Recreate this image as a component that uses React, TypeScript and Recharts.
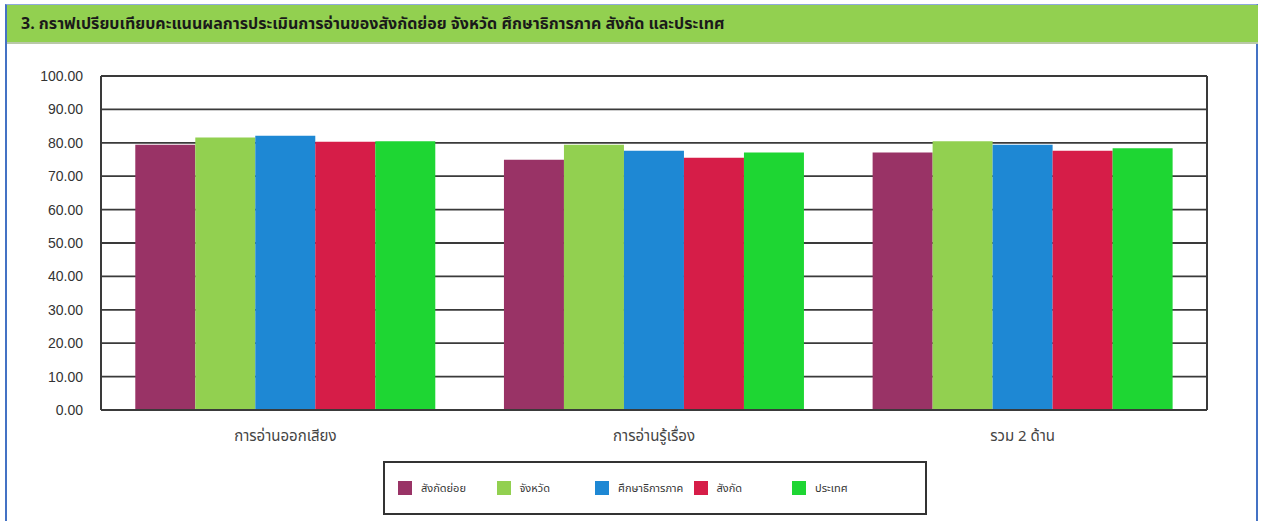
import { BarChart, Bar, XAxis, YAxis, CartesianGrid } from 'recharts'

const categories = ['การอ่านออกเสียง', 'การอ่านรู้เรื่อง', 'รวม 2 ด้าน']
const seriesNames = ['สังกัดย่อย', 'จังหวัด', 'ศึกษาธิการภาค', 'สังกัด', 'ประเทศ']
const seriesColors = ['#993366', '#92d050', '#1e88d4', '#d61d48', '#1ed633']
const subAgency = [79.4, 74.9, 77.1]
const province = [81.6, 79.4, 80.5]
const region = [82.1, 77.6, 79.4]
const agency = [80.3, 75.5, 77.6]
const country = [80.5, 77.1, 78.4]
const yTicks = [0, 10, 20, 30, 40, 50, 60, 70, 80, 90, 100]

const seriesValues = [subAgency, province, region, agency, country]
const data = categories.map((name, i) => {
    const row: Record<string, string | number> = { name }
    seriesValues.forEach((vals, s) => {
        row[`s${s}`] = vals[i]
    })
    return row
})

const FONT = 'Tahoma, "Noto Sans Thai", "Noto Sans", Arial, sans-serif'

export default function App() {
    return (
        <div
            style={{
                position: 'absolute',
                left: 0,
                top: 0,
                width: 1261,
                height: 521,
                background: '#fff',
                fontFamily: FONT,
                overflow: 'hidden'
            }}
        >
            {/* frame */}
            <div
                style={{
                    position: 'absolute',
                    left: 5,
                    top: 4,
                    width: 1253,
                    height: 530,
                    borderLeft: '2px solid #4472c4',
                    borderRight: '2px solid #4472c4',
                    borderTop: '1px solid #8fa9dc',
                    boxSizing: 'border-box'
                }}
            />
            <div
                style={{
                    position: 'absolute',
                    left: 7,
                    top: 5,
                    width: 1251,
                    height: 39,
                    background: '#92d050',
                    borderBottom: '2px solid #b9c8a8',
                    boxSizing: 'border-box',
                    display: 'flex',
                    alignItems: 'center',
                    paddingLeft: 14,
                    fontWeight: 'bold',
                    fontSize: 16,
                    color: '#1a1a1a'
                }}
            >
                3. กราฟเปรียบเทียบคะแนนผลการประเมินการอ่านของสังกัดย่อย จังหวัด ศึกษาธิการภาค สังกัด และประเทศ
            </div>

            <div style={{ position: 'absolute', left: 0, top: 0 }}>
                <BarChart
                    width={1261}
                    height={521}
                    data={data}
                    margin={{ top: 76, right: 50, left: 0, bottom: 81 }}
                    barCategoryGap="9.3%"
                    barGap={0}
                >
                    <CartesianGrid vertical={false} stroke="#3a3a3a" strokeWidth={1.8} />
                    <XAxis
                        dataKey="name"
                        height={30}
                        tickLine={false}
                        axisLine={{ stroke: '#3a3a3a', strokeWidth: 2 }}
                        tick={{ fill: '#444', fontSize: 15, fontFamily: FONT }}
                        tickMargin={14}
                        interval={0}
                    />
                    <YAxis
                        width={101}
                        domain={[0, 100]}
                        ticks={yTicks}
                        tickFormatter={(v: number) => v.toFixed(2)}
                        tickLine={false}
                        axisLine={{ stroke: '#3a3a3a', strokeWidth: 2 }}
                        tick={{ fill: '#333', fontSize: 14, fontFamily: 'Arial, "Liberation Sans", sans-serif' }}
                        tickMargin={12}
                    />
                    <YAxis
                        yAxisId="right"
                        orientation="right"
                        width={4}
                        domain={[0, 100]}
                        tick={false}
                        tickLine={false}
                        axisLine={{ stroke: '#3a3a3a', strokeWidth: 2 }}
                    />
                    {seriesNames.map((n, s) => (
                        <Bar
                            key={n}
                            dataKey={`s${s}`}
                            name={n}
                            fill={seriesColors[s]}
                            isAnimationActive={false}
                        />
                    ))}
                </BarChart>
            </div>

            {/* legend */}
            <div
                style={{
                    position: 'absolute',
                    left: 383,
                    top: 461,
                    width: 544,
                    height: 54,
                    border: '2px solid #333',
                    boxSizing: 'border-box',
                    display: 'flex',
                    alignItems: 'center',
                    paddingLeft: 13
                }}
            >
                {seriesNames.map((n, s) => (
                    <div key={n} style={{ width: 98.5, display: 'flex', alignItems: 'center' }}>
                        <span
                            style={{
                                display: 'inline-block',
                                width: 14,
                                height: 14,
                                background: seriesColors[s],
                                marginRight: 9
                            }}
                        />
                        <span style={{ fontSize: 11, color: '#333' }}>{n}</span>
                    </div>
                ))}
            </div>
        </div>
    )
}
